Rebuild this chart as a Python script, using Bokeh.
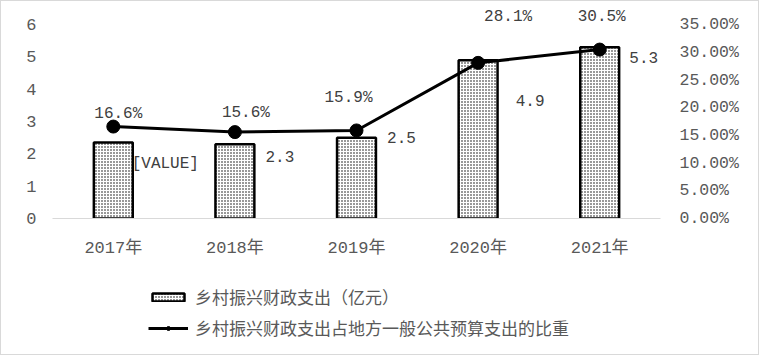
from bokeh.plotting import figure
from bokeh.layouts import column
from bokeh.models import (Range1d, LinearAxis, FixedTicker, NumeralTickFormatter,
                          ColumnDataSource, LabelSet, Legend, LegendItem)
from bokeh.core.properties import value
from bokeh.embed import file_html
from bokeh.resources import INLINE

years = ["2017年", "2018年", "2019年", "2020年", "2021年"]
spending = [2.35, 2.3, 2.5, 4.9, 5.3]            # 亿元
share = [0.166, 0.156, 0.159, 0.281, 0.305]       # fraction
share_labels = ["16.6%", "15.6%", "15.9%", "28.1%", "30.5%"]
spending_labels = ["[VALUE]", "2.3", "2.5", "4.9", "5.3"]
left_ticks = [0, 1, 2, 3, 4, 5, 6]
right_ticks = [0, 0.05, 0.10, 0.15, 0.20, 0.25, 0.30, 0.35]
legend_labels = ["乡村振兴财政支出（亿元）", "乡村振兴财政支出占地方一般公共预算支出的比重"]

# label placement (offsets / label anchor heights)
share_label_dx = [5, 11, -8, 30, 2]
share_label_y = [0.189, 0.191, 0.218, 0.363, 0.363]
spend_label_dx = [52, 45, 45, 52, 44]
spend_label_y = [1.70, 1.92, 2.5, 3.65, 4.98]

MONO = "'Liberation Mono', 'Noto Sans CJK SC'"
CJK = "'Noto Sans CJK SC'"

BAR_STYLE = dict(fill_color="white", line_color="black", line_width=2.5, hatch_pattern=".",
                 hatch_color="black", hatch_scale=3, hatch_weight=1)
LINE_STYLE = dict(line_color="black", line_width=3)
DOT_STYLE = dict(size=13, fill_color="black", line_color="black")

src = ColumnDataSource(dict(x=years, spend=spending, share=share,
                            slab=share_labels, blab=spending_labels,
                            sdx=share_label_dx, sy=share_label_y,
                            bdx=spend_label_dx, by=spend_label_y))

p = figure(width=757, height=261, x_range=years, y_range=Range1d(0, 6.5),
           output_backend="svg", toolbar_location=None,
           min_border_left=51, min_border_right=98, min_border_top=7, min_border_bottom=44)
p.x_range.range_padding = 0
p.extra_y_ranges = {"pct": Range1d(0, 0.35 * 6.5 / 6)}
p.grid.visible = False
p.outline_line_color = None

# left axis
ya = p.yaxis[0]
ya.ticker = FixedTicker(ticks=left_ticks)
ya.axis_line_color = None
ya.major_tick_line_color = None
ya.minor_tick_line_color = None
ya.major_label_text_font = MONO
ya.major_label_text_font_size = "17px"
ya.major_label_text_color = "#595959"
ya.major_label_standoff = 10

# right axis
ra = LinearAxis(y_range_name="pct", ticker=FixedTicker(ticks=right_ticks),
                formatter=NumeralTickFormatter(format="0.00%"))
ra.axis_line_color = None
ra.major_tick_line_color = None
ra.minor_tick_line_color = None
ra.major_label_text_font = MONO
ra.major_label_text_font_size = "16.5px"
ra.major_label_text_color = "#595959"
ra.major_label_standoff = 13
p.add_layout(ra, "right")

# x axis
xa = p.xaxis[0]
xa.axis_line_color = "#d9d9d9"
xa.major_tick_line_color = None
xa.minor_tick_line_color = None
xa.major_label_text_font = MONO
xa.major_label_text_font_size = "17px"
xa.major_label_text_color = "#595959"
xa.major_label_standoff = 14

p.vbar(x="x", top="spend", width=0.32, source=src, **BAR_STYLE)
p.line(x="x", y="share", source=src, y_range_name="pct", **LINE_STYLE)
p.scatter(x="x", y="share", source=src, y_range_name="pct", **DOT_STYLE)

p.add_layout(LabelSet(x="x", y="sy", text="slab", x_offset="sdx", source=src, y_range_name="pct",
                      text_font=value(MONO), text_font_size="16px", text_color="#404040",
                      text_align="center", text_baseline="middle"))
p.add_layout(LabelSet(x="x", y="by", text="blab", x_offset="bdx", source=src,
                      text_font=value(MONO), text_font_size="16px", text_color="#404040",
                      text_align="center", text_baseline="middle"))

# legend strip (hidden copies of the renderers; only their legend entries show)
lg = figure(width=757, height=92, x_range=years, y_range=Range1d(0, 6.5),
            output_backend="svg", toolbar_location=None,
            x_axis_location=None, y_axis_location=None,
            min_border_left=0, min_border_right=0, min_border_top=0, min_border_bottom=0)
lg.grid.visible = False
lg.outline_line_color = None
r_bar = lg.vbar(x="x", top="spend", width=0.32, source=src, visible=False, **BAR_STYLE)
r_line = lg.line(x="x", y="share", source=src, visible=False, **LINE_STYLE)
r_dot = lg.scatter(x="x", y="share", source=src, visible=False, **DOT_STYLE)

legend = Legend(items=[LegendItem(label=legend_labels[0], renderers=[r_bar]),
                       LegendItem(label=legend_labels[1], renderers=[r_line, r_dot])],
                location=(96, 14), orientation="vertical",
                label_text_font=CJK, label_text_font_size="17px", label_text_color="#595959",
                glyph_width=40, glyph_height=10, label_height=20, spacing=6, label_standoff=7,
                padding=0, margin=0, border_line_color=None, background_fill_alpha=0,
                inactive_fill_alpha=0)
lg.add_layout(legend, "center")

layout = column(p, lg, spacing=0)
layout.styles = {"border": "1px solid #d9d9d9"}
open("out.html", "w").write(file_html(layout, INLINE))
